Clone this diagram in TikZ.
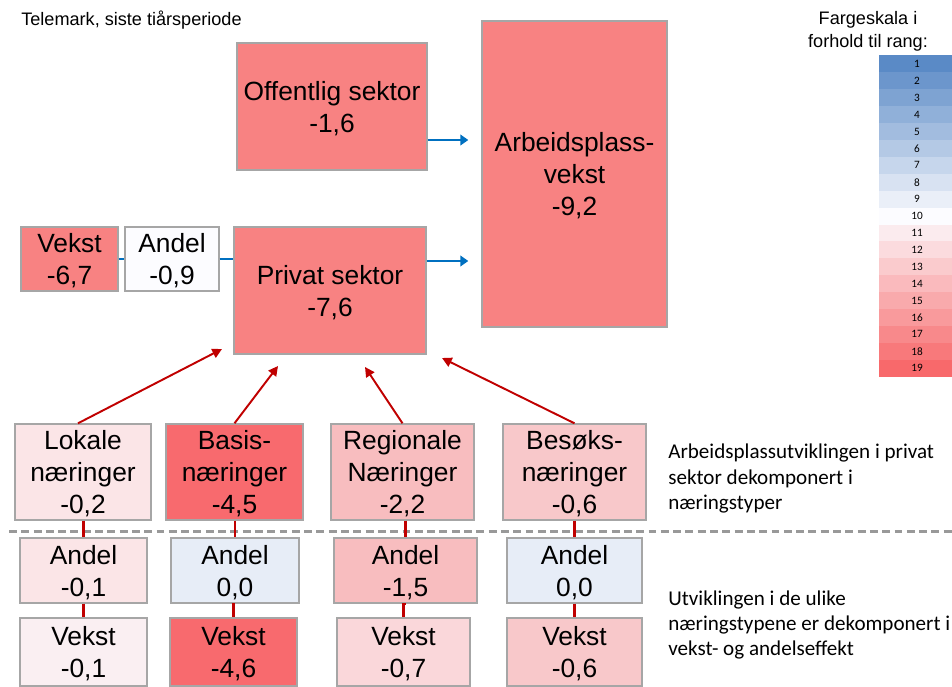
\documentclass[tikz,border=0pt]{standalone}
\usepackage{fontspec}
\setmainfont{Liberation Sans}
\newfontfamily\calibri{Carlito}
\usetikzlibrary{arrows.meta}

\definecolor{laks}{RGB}{248,130,130}
\definecolor{sterk}{RGB}{248,106,110}
\definecolor{lys}{RGB}{251,229,231}
\definecolor{lysest}{RGB}{250,239,242}
\definecolor{rosa}{RGB}{248,189,191}
\definecolor{rosab}{RGB}{248,200,202}
\definecolor{rosac}{RGB}{250,215,218}
\definecolor{hvit}{RGB}{252,252,255}
\definecolor{blek}{RGB}{231,237,247}
\definecolor{boksrand}{RGB}{166,166,166}
\definecolor{morkrod}{RGB}{192,0,0}
\definecolor{blaa}{RGB}{0,112,192}

\tikzset{
  boks/.style={draw=boksrand, line width=0.8pt, align=center, inner sep=0pt,
    font=\fontsize{15}{18.2}\selectfont, text depth=-1.2pt},
  mal/.style 2 args={minimum width=#1*0.02cm, minimum height=#2*0.02cm},
  tittel/.style={inner sep=0pt, font=\fontsize{10.3}{13}\selectfont},
  forklaring/.style={inner sep=0pt, align=left, font=\calibri\fontsize{12}{14.5}\selectfont},
  rodpil/.style={draw=morkrod, line width=1.1pt, -{Triangle[length=5.5pt, width=5.5pt]}},
  rodlinje/.style={draw=morkrod, line width=1.3pt},
  blaapil/.style={draw=blaa, line width=1.1pt, -{Triangle[length=4.5pt, width=6pt]}},
  blaalinje/.style={draw=blaa, line width=1.1pt}
}

\begin{document}
\begin{tikzpicture}[x=0.02cm, y=-0.02cm]
  \useasboundingbox (0,0) rectangle (952,686);

  % Overskrifter
  \node[tittel, anchor=base west] (tittel) at (21,26) {Telemark, siste tiårsperiode};
  \node[tittel, align=center, anchor=north] (skalatekst) at (868,11) {Fargeskala i\\forhold til rang:};

  % Fargeskala
  \foreach \i in {1,...,19} {
    \pgfmathsetmacro\tr{max(\i-10,0)/9}
    \pgfmathsetmacro\tb{max(10-\i,0)/9}
    \pgfmathtruncatemacro\cr{252-4*\tr-162*\tb}
    \pgfmathtruncatemacro\cg{252-147*\tr-114*\tb}
    \pgfmathtruncatemacro\cb{255-148*\tr-57*\tb}
    \definecolor{trinn}{RGB}{\cr,\cg,\cb}
    \fill[trinn] (879,{55.5+(\i-1)*16.9}) rectangle (952,{55.5+\i*16.9});
    \node[font=\calibri\fontsize{6.4}{7}\selectfont, inner sep=0pt] (rang\i) at (917,{55.5+(\i-0.5)*16.9}) {\i};
  }

  % Sektorer
  \node[boks, fill=laks, mal={190}{127}] (off) at (332,106.5) {Offentlig sektor\\-1,6};
  \node[boks, fill=laks, mal={185}{306}] (arb) at (574.5,174) {Arbeidsplass-\\vekst\\-9,2};
  \node[boks, fill=laks, mal={192}{127}] (priv) at (330,290.5) {Privat sektor\\-7,6};
  \node[boks, fill=laks, mal={97}{64}] (privV) at (69.5,259) {Vekst\\-6,7};
  \node[boks, fill=hvit, mal={94}{64}] (privA) at (172,259) {Andel\\-0,9};

  % Blaa piler mot arbeidsplassveksten
  \coordinate (hoydeOff) at (0,140);
  \coordinate (hoydePriv) at (0,261);
  \draw[blaapil, shorten >=0.26cm] (off.east |- hoydeOff) -- (arb.west |- hoydeOff);
  \draw[blaapil, shorten >=0.26cm] (priv.east |- hoydePriv) -- (arb.west |- hoydePriv);
  \draw[blaalinje] (privV) -- (privA);
  \draw[blaalinje] (privA.east) -- (privA.east -| priv.west);

  % Naeringstyper
  \node[boks, fill=lys, mal={136}{96}] (lok) at (83,472) {Lokale\\næringer\\-0,2};
  \node[boks, fill=sterk, mal={137}{96}] (bas) at (234.5,472) {Basis-\\næringer\\-4,5};
  \node[boks, fill=rosa, mal={143}{96}] (reg) at (402.5,472) {Regionale\\Næringer\\-2,2};
  \node[boks, fill=rosab, mal={143}{96}] (bes) at (574.5,472) {Besøks-\\næringer\\-0,6};

  % Andelseffekt
  \node[boks, fill=lys, mal={127}{65}] (lokA) at (83.5,570.5) {Andel\\-0,1};
  \node[boks, fill=blek, mal={128}{65}] (basA) at (235,570.5) {Andel\\0,0};
  \node[boks, fill=rosa, mal={143}{65}] (regA) at (405.5,570.5) {Andel\\-1,5};
  \node[boks, fill=blek, mal={135}{65}] (besA) at (574.5,570.5) {Andel\\0,0};

  % Vekstefekt
  \node[boks, fill=lysest, mal={127}{68}] (lokV) at (83.5,652) {Vekst\\-0,1};
  \node[boks, fill=sterk, mal={127}{68}] (basV) at (233.5,652) {Vekst\\-4,6};
  \node[boks, fill=rosac, mal={133}{68}] (regV) at (403.5,652) {Vekst\\-0,7};
  \node[boks, fill=rosab, mal={135}{68}] (besV) at (574.5,652) {Vekst\\-0,6};

  % Skillelinje
  \draw[draw=gray!80, line width=1.7pt, dash pattern=on 4.5pt off 2.5pt] (9,531) -- (952,531);

  % Roede piler mot privat sektor
  \coordinate (endeLok) at (222,349);
  \coordinate (endeBas) at (278,366);
  \coordinate (endeReg) at (365,367);
  \coordinate (endeBes) at (442,358);
  \draw[rodpil] ([xshift=-0.1cm]lok.north) -- (endeLok);
  \draw[rodpil] (bas.north) -- (endeBas);
  \draw[rodpil] (reg.north) -- (endeReg);
  \draw[rodpil] (bes.north) -- (endeBes);

  % Roede linjer mellom boksene
  \foreach \n in {lok,bas,reg,bes} {
    \draw[rodlinje] (\n A.north |- \n.south) -- (\n A.north);
    \draw[rodlinje] (\n A.south) -- (\n A.south -| \n V.north) -- (\n V.north);
  }

  % Forklaringer
  \node[forklaring, anchor=north west] (forkl1) at (668,444) {Arbeidsplassutviklingen i privat\\sektor dekomponert i\\næringstyper};
  \node[forklaring, anchor=north west] (forkl2) at (668,590) {Utviklingen i de ulike\\næringstypene er dekomponert i\\vekst- og andelseffekt};

\end{tikzpicture}
\end{document}
